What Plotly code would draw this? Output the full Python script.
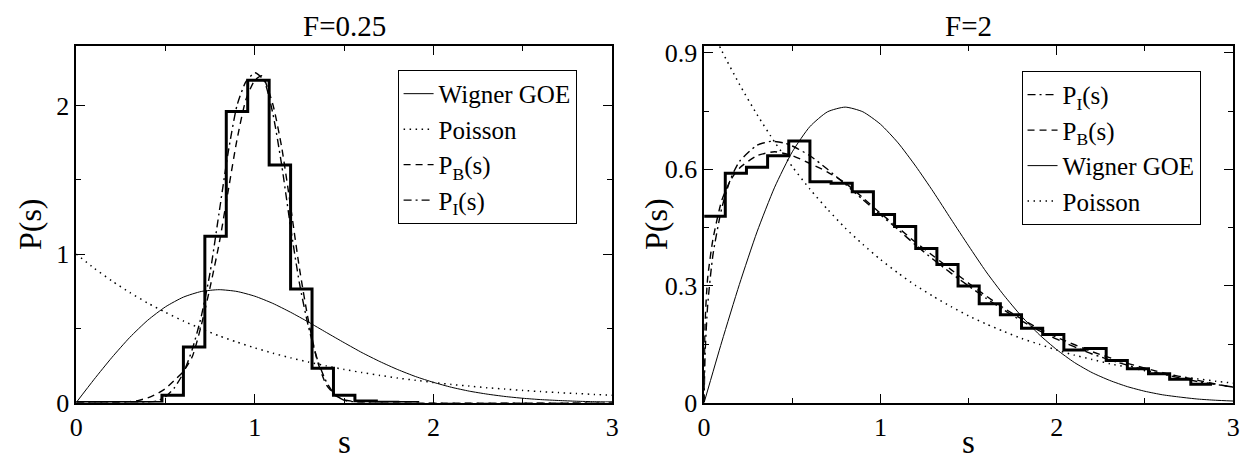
import plotly.graph_objects as go

# ---------------- data ----------------
s_ref = [0.0, 0.1, 0.2, 0.3, 0.4, 0.5, 0.6, 0.7, 0.8, 0.9, 1.0, 1.1, 1.2, 1.3, 1.4, 1.5,
         1.6, 1.7, 1.8, 1.9, 2.0, 2.1, 2.2, 2.3, 2.4, 2.5, 2.6, 2.7, 2.8, 2.9, 3.0]
wigner_goe = [0.0, 0.156, 0.304, 0.439, 0.554, 0.645, 0.710, 0.748, 0.760, 0.748, 0.716,
              0.668, 0.608, 0.542, 0.472, 0.403, 0.336, 0.276, 0.222, 0.175, 0.136,
              0.103, 0.077, 0.057, 0.041, 0.029, 0.020, 0.014, 0.009, 0.006, 0.004]
poisson = [1.0, 0.905, 0.819, 0.741, 0.670, 0.607, 0.549, 0.497, 0.449, 0.407, 0.368,
           0.333, 0.301, 0.273, 0.247, 0.223, 0.202, 0.183, 0.165, 0.150, 0.135,
           0.122, 0.111, 0.100, 0.091, 0.082, 0.074, 0.067, 0.061, 0.055, 0.050]

edges_l = [0.0, 0.12, 0.24, 0.36, 0.48, 0.60, 0.72, 0.84, 0.96, 1.08, 1.20, 1.32,
           1.44, 1.56, 1.68, 1.80, 1.92]
hist_l = [0.0, 0.0, 0.0, 0.0, 0.049, 0.374, 1.12, 1.96, 2.17, 1.60, 0.765, 0.231,
          0.049, 0.011, 0.003, 0.001]

s_pb_l = [0.0, 0.2, 0.25, 0.3, 0.35, 0.4, 0.45, 0.5, 0.55, 0.6, 0.65, 0.7, 0.75, 0.8,
          0.85, 0.9, 0.95, 1.0, 1.04, 1.1, 1.15, 1.2, 1.25, 1.3, 1.35, 1.4, 1.45, 1.5,
          1.6, 1.8, 3.0]
pb_l = [0.0, 0.0, 0.002, 0.006, 0.015, 0.032, 0.058, 0.095, 0.15, 0.21, 0.31, 0.52,
        0.78, 1.07, 1.42, 1.77, 2.04, 2.17, 2.20, 2.01, 1.72, 1.32, 0.90, 0.55, 0.28,
        0.12, 0.05, 0.018, 0.003, 0.0, 0.0]

s_pi_l = [0.0, 0.35, 0.4, 0.45, 0.5, 0.55, 0.6, 0.65, 0.7, 0.75, 0.8, 0.85, 0.9, 0.95,
          1.0, 1.05, 1.1, 1.15, 1.2, 1.25, 1.3, 1.35, 1.4, 1.45, 1.5, 1.6, 3.0]
pi_l = [0.0, 0.0, 0.002, 0.01, 0.04, 0.10, 0.20, 0.36, 0.58, 0.88, 1.28, 1.68, 2.0,
        2.16, 2.22, 2.17, 1.95, 1.60, 1.18, 0.80, 0.51, 0.29, 0.14, 0.05, 0.015, 0.0, 0.0]

edges_r = [0.0, 0.12, 0.24, 0.36, 0.48, 0.60, 0.72, 0.84, 0.96, 1.08, 1.20, 1.32,
           1.44, 1.56, 1.68, 1.80, 1.92, 2.04, 2.16, 2.28, 2.40, 2.52, 2.64, 2.76, 2.88]
hist_r = [0.479, 0.590, 0.605, 0.635, 0.673, 0.568, 0.564, 0.542, 0.484, 0.453, 0.396,
          0.355, 0.300, 0.254, 0.226, 0.191, 0.175, 0.135, 0.139, 0.108, 0.087, 0.074,
          0.060, 0.047]

s_pb_r = [0.0, 0.005, 0.02, 0.05, 0.1, 0.15, 0.2, 0.3, 0.4, 0.5, 0.6, 0.7, 0.8, 0.9,
          1.0, 1.1, 1.2, 1.3, 1.4, 1.5, 1.6, 1.7, 1.8, 1.9, 2.0, 2.2, 2.4, 2.6, 2.8, 3.0]
pb_r = [0.0, 0.20, 0.32, 0.42, 0.52, 0.572, 0.603, 0.635, 0.645, 0.635, 0.615, 0.593,
        0.565, 0.527, 0.487, 0.450, 0.412, 0.377, 0.342, 0.307, 0.274, 0.243, 0.215,
        0.190, 0.168, 0.131, 0.101, 0.077, 0.057, 0.039]

s_pi_r = [0.0, 0.005, 0.02, 0.05, 0.1, 0.15, 0.2, 0.3, 0.38, 0.45, 0.5, 0.6, 0.7, 0.8,
          0.9, 1.0, 1.1, 1.2, 1.3, 1.4, 1.5, 1.6, 1.7, 1.8, 1.9, 2.0, 2.2, 2.4, 2.6,
          2.8, 3.0]
pi_r = [0.0, 0.12, 0.25, 0.38, 0.50, 0.575, 0.620, 0.662, 0.672, 0.668, 0.660, 0.635,
        0.600, 0.562, 0.522, 0.483, 0.445, 0.405, 0.368, 0.333, 0.300, 0.268, 0.238,
        0.210, 0.185, 0.163, 0.125, 0.096, 0.073, 0.054, 0.040]

titles = ["F=0.25", "F=2"]
x_ticks = [0, 1, 2, 3]
y_ticks_l = [0, 1, 2]
y_ticks_r = [0, 0.3, 0.6, 0.9]
y_tick_text_r = ["0", "0.3", "0.6", "0.9"]

# ---------------- figure ----------------
SERIF = "Liberation Serif"
BLACK = "black"

DASH = "7px,5px"
DOT = "1.5px,4.5px"
DASHDOT = "8px,4px,2px,4px"

fig = go.Figure()


def hist_trace(edges, vals, xa, ya):
    return go.Scatter(x=edges, y=list(vals) + [vals[-1]], mode="lines",
                      line=dict(color=BLACK, width=3, shape="hv"),
                      showlegend=False, xaxis=xa, yaxis=ya, hoverinfo="skip")


def curve(x, y, name, dash, width, xa, ya, legend, rank):
    return go.Scatter(x=x, y=y, mode="lines", name=name,
                      line=dict(color=BLACK, width=width, dash=dash,
                                shape="spline", smoothing=0.6),
                      xaxis=xa, yaxis=ya, legend=legend, legendrank=rank)


fig.add_trace(hist_trace(edges_l, hist_l, "x", "y"))
fig.add_trace(curve(s_ref, wigner_goe, "Wigner GOE", "solid", 1.0, "x", "y", "legend", 1))
fig.add_trace(curve(s_ref, poisson, "Poisson", DOT, 1.5, "x", "y", "legend", 2))
fig.add_trace(curve(s_pb_l, pb_l, "P<sub>B</sub>(s)", DASH, 1.4, "x", "y", "legend", 3))
fig.add_trace(curve(s_pi_l, pi_l, "P<sub>I</sub>(s)", DASHDOT, 1.4, "x", "y", "legend", 4))

fig.add_trace(hist_trace(edges_r, hist_r, "x2", "y2"))
fig.add_trace(curve(s_pi_r, pi_r, "P<sub>I</sub>(s)", DASHDOT, 1.4, "x2", "y2", "legend2", 1))
fig.add_trace(curve(s_pb_r, pb_r, "P<sub>B</sub>(s)", DASH, 1.4, "x2", "y2", "legend2", 2))
fig.add_trace(curve(s_ref, wigner_goe, "Wigner GOE", "solid", 1.0, "x2", "y2", "legend2", 3))
fig.add_trace(curve(s_ref, poisson, "Poisson", DOT, 1.5, "x2", "y2", "legend2", 4))

W, H = 1253, 470
xl = [70 / W, 612 / W]
xr = [705 / W, 1240 / W]
yd = [55 / H, 429 / H]

axis_common = dict(showline=True, linecolor=BLACK, linewidth=1.5, mirror="allticks",
                   ticks="inside", ticklen=9, tickwidth=1.2, tickcolor=BLACK,
                   showgrid=False, zeroline=False,
                   tickfont=dict(family=SERIF, size=26, color=BLACK))
minor_common = dict(ticks="inside", ticklen=5, tickcolor=BLACK, tickwidth=1.2)
legend_common = dict(xanchor="left", yanchor="top", bgcolor="white",
                     bordercolor=BLACK, borderwidth=1,
                     font=dict(family=SERIF, size=25, color=BLACK),
                     itemwidth=30, tracegroupgap=0, entrywidth=162)

fig.update_layout(
    width=W, height=H,
    margin=dict(l=0, r=0, t=0, b=0),
    paper_bgcolor="white", plot_bgcolor="white",
    font=dict(family=SERIF, color=BLACK),
    xaxis=dict(domain=xl, range=[0, 3], tickvals=x_ticks, anchor="y",
               minor=dict(tickvals=[0.5, 1.5, 2.5], **minor_common), **axis_common),
    yaxis=dict(domain=yd, range=[0, 2.4], tickvals=y_ticks_l, anchor="x",
               minor=dict(tickvals=[0.5, 1.5], **minor_common), **axis_common),
    xaxis2=dict(domain=xr, range=[0, 3], tickvals=x_ticks, anchor="y2",
                minor=dict(tickvals=[0.5, 1.5, 2.5], **minor_common), **axis_common),
    yaxis2=dict(domain=yd, range=[0, 0.917], tickvals=y_ticks_r,
                ticktext=y_tick_text_r, anchor="x2",
                minor=dict(tickvals=[0.15, 0.45, 0.75], **minor_common), **axis_common),
    legend=dict(x=395 / W, y=1 - 66 / H, **legend_common),
    legend2=dict(x=1026 / W, y=1 - 67 / H, **legend_common),
    showlegend=True,
)

annots = []
for dom, t in zip([xl, xr], titles):
    annots.append(dict(text=t, x=(dom[0] + dom[1]) / 2, y=1 - 20 / H, xref="paper",
                       yref="paper", xanchor="center", yanchor="middle", showarrow=False,
                       font=dict(family=SERIF, size=29, color=BLACK)))
    annots.append(dict(text="s", x=(dom[0] + dom[1]) / 2, y=1 - 456 / H, xref="paper",
                       yref="paper", xanchor="center", yanchor="middle", showarrow=False,
                       font=dict(family=SERIF, size=33, color=BLACK)))
for xp in [24 / W, 657 / W]:
    annots.append(dict(text="P(s)", x=xp, y=1 - 228 / H, xref="paper", yref="paper",
                       xanchor="center", yanchor="middle", showarrow=False, textangle=-90,
                       font=dict(family=SERIF, size=32, color=BLACK)))
fig.update_layout(annotations=annots)

fig.write_html("out.html", config={"displayModeBar": False},
               post_script="document.body.style.margin='0';"
                           "document.body.style.overflow='hidden';")
